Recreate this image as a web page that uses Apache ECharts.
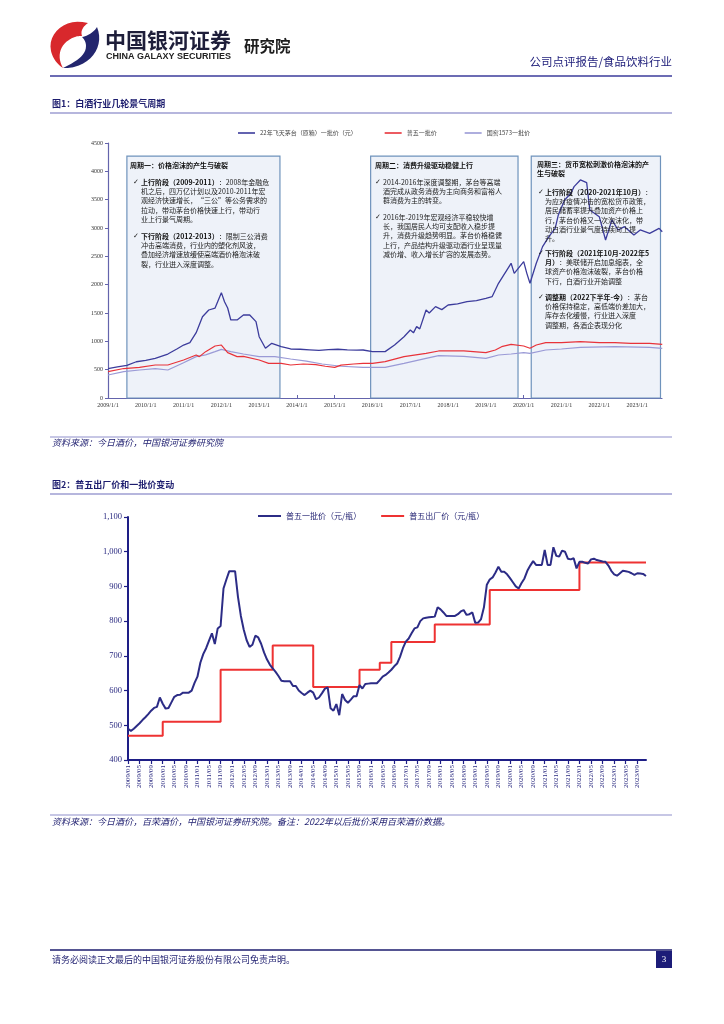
<!DOCTYPE html>
<html>
<head>
<meta charset="utf-8">
<script src="https://cdn.jsdelivr.net/npm/echarts@6/dist/echarts.min.js"></script>
<style>
html,body{margin:0;padding:0;background:#fff;}
#main{width:724px;height:1024px;}
</style>
</head>
<body>
<div id="main"></div>
<script>
// ---------- Figure 1 data (month, value) ----------
const moutaiDates = ['2009-01','2009-04','2009-07','2009-10','2010-01','2010-04','2010-08','2010-11','2011-01','2011-03','2011-05','2011-07','2011-09','2011-11','2012-01','2012-02','2012-03','2012-04','2012-06','2012-08','2012-10','2012-12','2013-01','2013-03','2013-05','2013-08','2013-11','2014-02','2014-05','2014-08','2014-11','2015-02','2015-05','2015-08','2015-10','2016-01','2016-05','2016-08','2016-11','2017-01','2017-02','2017-03','2017-04','2017-06','2017-07','2017-09','2017-11','2018-01','2018-04','2018-07','2018-10','2019-01','2019-03','2019-05','2019-07','2019-09','2019-10','2020-01','2020-02','2020-03','2020-05','2020-07','2020-09','2020-11','2020-12','2021-02','2021-04','2021-05','2021-07','2021-09','2021-10','2022-01','2022-03','2022-05','2022-07','2022-09','2022-12','2023-02','2023-05','2023-08','2023-09'];
const moutaiValues = [520,550,575,640,665,700,776,870,935,976,1153,1435,1553,1588,1859,1700,1588,1377,1377,1465,1465,1347,1082,877,965,906,865,860,850,840,855,860,850,845,847,818,818,935,1082,1200,1150,1259,1220,1553,1500,1612,1560,1641,1660,1700,1720,1759,1790,2024,2200,2377,2200,2406,2200,2024,2377,2671,2847,2994,3230,3495,3613,3730,3848,3800,3318,3200,2789,3142,2965,3024,2877,2965,2906,2994,2935];

const pu5Dates = ['2009-01','2009-06','2009-11','2010-04','2010-08','2011-01','2011-05','2011-06','2011-08','2011-11','2012-01','2012-03','2012-06','2012-08','2013-01','2013-04','2013-08','2013-11','2014-03','2014-07','2014-10','2015-01','2015-03','2015-07','2015-10','2016-01','2016-05','2016-11','2017-06','2017-10','2018-06','2019-01','2019-04','2019-06','2019-09','2020-01','2020-03','2020-05','2020-08','2021-01','2021-07','2022-01','2022-06','2022-11','2023-05','2023-09'];
const pu5Values = [464,520,541,582,582,670,759,730,818,918,935,800,730,735,670,612,612,582,600,590,560,540,580,600,612,612,641,730,788,830,830,800,847,906,947,918,877,935,976,976,994,976,976,965,965,947];

const gjDates = ['2009-01','2009-06','2009-11','2010-04','2010-08','2011-01','2011-05','2011-08','2011-11','2012-01','2012-04','2012-08','2013-01','2013-06','2013-11','2014-04','2014-09','2015-03','2015-10','2016-05','2016-11','2017-06','2017-10','2018-06','2019-01','2019-05','2019-09','2020-01','2020-03','2020-08','2021-01','2021-07','2022-06','2023-05','2023-09'];
const gjValues = [406,464,494,520,494,623,730,760,818,859,818,776,730,730,688,650,600,560,541,541,612,700,747,735,700,759,776,800,788,847,865,894,906,894,877];

const fig1YearTicks = [2009,2010,2011,2012,2013,2014,2015,2016,2017,2018,2019,2020,2021,2022,2023];
const fig1Names = ['22年飞天茅台（原箱）一批价（元）','普五一批价','国窖1573一批价'];

// ---------- Figure 2 data (monthly, 2009/01 - 2023/12) ----------
const pu5Wholesale = [
 490,484,490,498,506,515,523,532,542,550,553,580,
 562,548,550,566,582,587,588,594,594,594,600,622,
 640,680,705,722,744,765,734,779,786,894,920,944,
 944,944,870,815,775,745,726,732,758,753,735,710,
 690,675,664,654,642,628,627,627,627,613,613,600,
 593,587,594,600,594,575,580,592,605,609,549,542,
 561,529,590,573,565,574,584,584,616,606,619,620,
 621,621,621,630,640,645,652,660,670,678,697,722,
 741,750,765,779,782,800,808,810,811,812,813,840,
 834,825,815,815,815,815,820,828,832,818,820,825,
 795,796,806,840,905,920,926,940,957,942,942,935,
 924,912,900,894,910,923,945,960,973,962,962,962,
 1005,962,962,1013,988,986,1003,1000,980,978,981,952,
 971,971,968,966,978,980,976,974,972,971,960,945,
 935,931,938,945,944,942,938,933,938,937,936,930];
const pu5Factory = [
 470,470,470,470,470,470,470,470,470,470,470,470,
 510,510,510,510,510,510,510,510,510,510,510,510,
 510,510,510,510,510,510,510,510,660,660,660,660,
 660,660,660,660,660,660,660,660,660,660,660,660,
 660,660,730,730,730,730,730,730,730,730,730,730,
 730,730,730,730,610,610,610,610,610,610,610,610,
 610,610,610,610,610,610,610,610,660,660,660,660,
 660,660,660,680,680,680,680,740,740,740,740,740,
 740,740,740,740,740,740,740,740,740,740,790,790,
 790,790,790,790,790,790,790,790,790,790,790,790,
 790,790,790,790,790,890,890,890,890,890,890,890,
 890,890,890,890,890,890,890,890,890,890,890,890,
 890,890,890,890,890,890,890,890,890,890,890,890,
 969,969,969,969,969,969,969,969,969,969,969,969,
 969,969,969,969,969,969,969,969,969,969,969,969];
const fig2Months = [];
for (let y = 2009; y <= 2023; y++) for (let m = 1; m <= 12; m++) fig2Months.push(y + '/' + (m < 10 ? '0' + m : m));
const fig2Names = ['普五一批价（元/瓶）','普五出厂价（元/瓶）'];

// ---------- helpers ----------
function ym(s){ const p = s.split('-').map(Number); return p[0] + (p[1]-1)/12; }
function zip(d, v){ return d.map((s,i)=>[ym(s), v[i]]); }
// sample a closed cubic-bezier outline into polygon points (logo)
function bez(start, segs){
  const pts = [start.slice()]; let p0 = start;
  segs.forEach(s => {
    const c1=[s[0],s[1]], c2=[s[2],s[3]], p3=[s[4],s[5]];
    for (let i=1;i<=12;i++){ const t=i/12, u=1-t;
      pts.push([u*u*u*p0[0]+3*u*u*t*c1[0]+3*u*t*t*c2[0]+t*t*t*p3[0],
                u*u*u*p0[1]+3*u*u*t*c1[1]+3*u*t*t*c2[1]+t*t*t*p3[1]]); }
    p0 = p3;
  });
  return pts;
}

const CJK = '"Noto Sans CJK SC","Liberation Sans",sans-serif';
const SERIF = '"Liberation Serif","Noto Sans CJK SC",serif';
const NAVY = '#1c1c6e';

function txt(x, y, text, opt){
  opt = opt || {};
  return { type:'text', x:x, y:y, z:20, style: Object.assign({
    text:text, fill: opt.fill || NAVY, font: opt.font || ('9px ' + CJK),
    textAlign: opt.align || 'left', textVerticalAlign: opt.va || 'middle'
  }, opt.extra || {}) };
}
function hline(x1, x2, y, color, w){
  return { type:'line', z:20, shape:{x1:x1, y1:y, x2:x2, y2:y}, style:{stroke:color, lineWidth:w} };
}
function boxText(x, y, text){
  return { type:'text', x:x, y:y, z:30, style:{
    text:text, fill:'#222', font:'7px ' + CJK, lineHeight:9.3,
    textVerticalAlign:'top',
    rich:{ b:{ fontWeight:'bold', fontSize:7, lineHeight:9.3, fill:'#111', fontFamily:CJK } }
  }};
}
function check(x, y){ return txt(x, y, '✓', {fill:'#222', font:'7px "DejaVu Sans"'}); }

const logoRed = bez([88,23], [[66,17,47,33,51,51],[53,59,57,64,63,68],[57,58,59,46,69,40],[73,37,77,36,82,36],[80,30,84,26,88,23]]);
const logoNavy = bez([97,27], [[104,44,94,62,74,67],[70,68,66,68,63,68],[75,62,86,56,86,46],[86,42,84,39,82,37],[88,36,94,32,97,27]]);

const graphics = [
  { type:'polygon', z:20, shape:{ points:logoRed }, style:{ fill:'#d8282c' } },
  { type:'polygon', z:20, shape:{ points:logoNavy }, style:{ fill:'#23266e' } },
  txt(105, 40, '中国银河证券', {fill:'#1e1e3a', font:'bold 21px ' + CJK}),
  txt(106, 57, 'CHINA GALAXY SECURITIES', {fill:'#222', font:'bold 9px "Liberation Sans",sans-serif'}),
  txt(244, 46, '研究院', {fill:'#1e1e1e', font:'bold 15.5px ' + CJK}),
  txt(672, 62, '公司点评报告/食品饮料行业', {align:'right', font:'11.5px ' + CJK, fill:'#1a1a78'}),
  hline(50, 672, 76, '#6c6cb4', 2),

  txt(52, 104, '图1：白酒行业几轮景气周期', {font:'bold 9px ' + CJK}),
  hline(50, 672, 113, '#9e9ed2', 1.5),

  txt(130, 165, '周期一：价格泡沫的产生与破裂', {fill:'#111', font:'bold 7px ' + CJK}),
  check(133, 182),
  boxText(141, 177.5, '{b|上行阶段（2009-2011）}：2008年金融危\n机之后，四万亿计划以及2010-2011年宏\n观经济快速增长，“三公”等公务需求的\n拉动，带动茅台价格快速上行，带动行\n业上行景气周期。'),
  check(133, 236),
  boxText(141, 231.5, '{b|下行阶段（2012-2013）}：限制三公消费\n冲击高端消费，行业内的塑化剂风波，\n叠加经济增速放缓使高端酒价格泡沫破\n裂，行业进入深度调整。'),

  txt(375, 165, '周期二：消费升级驱动稳健上行', {fill:'#111', font:'bold 7px ' + CJK}),
  check(375, 182),
  boxText(383, 177.5, '2014-2016年深度调整期，茅台等高端\n酒完成从政务消费为主向商务和富裕人\n群消费为主的转变。'),
  check(375, 217),
  boxText(383, 212.5, '2016年-2019年宏观经济平稳较快增\n长，我国居民人均可支配收入稳步提\n升，消费升级趋势明显。茅台价格稳健\n上行，产品结构升级驱动酒行业呈现量\n减价增、收入增长扩容的发展态势。'),

  { type:'text', x:537, y:159.5, z:30, style:{ text:'周期三：货币宽松刺激价格泡沫的产\n生与破裂', fill:'#111', font:'bold 7px ' + CJK, lineHeight:9.3, textVerticalAlign:'top' } },
  check(538, 192),
  boxText(545, 187.5, '{b|上行阶段（2020-2021年10月）}：\n为应对疫情冲击的宽松货币政策，\n居民储蓄率提升叠加资产价格上\n行，茅台价格又一次泡沫化，带\n动白酒行业景气度持续向上提\n升。'),
  check(538, 253),
  boxText(545, 248.5, '{b|下行阶段（2021年10月-2022年5}\n{b|月）}：美联储开启加息缩表，全\n球资产价格泡沫破裂，茅台价格\n下行，白酒行业开始调整'),
  check(538, 297),
  boxText(545, 292.5, '{b|调整期（2022下半年-今）}：茅台\n价格保持稳定，高低端价差加大，\n库存去化缓慢，行业进入深度\n调整期，各酒企表现分化'),

  hline(50, 672, 437, '#b4b4dc', 1.5),
  txt(52, 443, '资料来源：今日酒价，中国银河证券研究院', {font:'italic 9px ' + CJK}),

  txt(52, 485, '图2：普五出厂价和一批价变动', {font:'bold 9px ' + CJK}),
  hline(50, 672, 494, '#9e9ed2', 1.5),

  hline(50, 672, 815, '#b4b4dc', 1.5),
  txt(52, 822, '资料来源：今日酒价，百荣酒价，中国银河证券研究院。备注：2022年以后批价采用百荣酒价数据。', {font:'italic 9px ' + CJK}),

  hline(50, 672, 950, '#1c1c6e', 1.5),
  txt(52, 960, '请务必阅读正文最后的中国银河证券股份有限公司免责声明。', {font:'9px ' + CJK}),
  { type:'rect', z:20, shape:{x:656, y:951, width:16, height:17}, style:{fill:'#1c1c78'} },
  txt(664, 960, '3', {fill:'#fff', align:'center', font:'9px ' + SERIF})
];

const chart = echarts.init(document.getElementById('main'), null, {renderer:'canvas'});
const option = {
  animation:false,
  backgroundColor:'#fff',
  textStyle:{ fontFamily: CJK },
  grid:[
    { left:108, top:143, width:554, height:255 },
    { left:128, top:517, width:518, height:243 }
  ],
  legend:[
    { data:fig1Names, left:233, top:125, icon:'rect', itemWidth:17, itemHeight:1.6, itemGap:28,
      textStyle:{ fontSize:6, color:'#444', fontFamily:CJK } },
    { data:fig2Names, left:253, top:507, icon:'rect', itemWidth:23, itemHeight:2, itemGap:20,
      textStyle:{ fontSize:8, color:NAVY, fontFamily:CJK } }
  ],
  xAxis:[
    { gridIndex:0, type:'value', min:2009, max:2023.66, interval:1,
      axisLine:{ lineStyle:{ color:'#6464ac', width:1.2 } },
      axisTick:{ inside:true, length:3, lineStyle:{ color:'#6464ac' } },
      splitLine:{ show:false },
      axisLabel:{ fontSize:6, color:'#333', fontFamily:SERIF, margin:4, showMaxLabel:false,
        formatter: v => fig1YearTicks.indexOf(Math.round(v*1000)/1000) >= 0 ? v + '/1/1' : '' } },
    { gridIndex:1, type:'category', data:fig2Months, boundaryGap:false,
      axisLine:{ lineStyle:{ color:'#1e1e86', width:2 } },
      axisTick:{ interval:3, length:4, lineStyle:{ color:'#1e1e86', width:1.2 } },
      axisLabel:{ interval:3, rotate:90, fontSize:7, color:'#2a2a80', fontFamily:SERIF, margin:5 } }
  ],
  yAxis:[
    { gridIndex:0, type:'value', min:0, max:4500, interval:500,
      axisLine:{ show:true, lineStyle:{ color:'#6464ac', width:1.2 } },
      axisTick:{ show:true, length:3, lineStyle:{ color:'#6464ac' } },
      splitLine:{ show:false },
      axisLabel:{ fontSize:6, color:'#333', fontFamily:SERIF, margin:5, formatter: v => String(v) } },
    { gridIndex:1, type:'value', min:400, max:1100, interval:100,
      axisLine:{ show:true, lineStyle:{ color:'#1e1e86', width:2 } },
      axisTick:{ show:true, length:4, lineStyle:{ color:'#1e1e86', width:1.2 } },
      splitLine:{ show:false },
      axisLabel:{ fontSize:8.5, color:'#2a2a80', fontFamily:SERIF, margin:6,
        formatter: v => v >= 1000 ? Math.floor(v/1000) + ',' + String(v%1000).padStart(3,'0') : String(v) } }
  ],
  series:[
    { name:fig1Names[2], type:'line', xAxisIndex:0, yAxisIndex:0, data:zip(gjDates, gjValues),
      showSymbol:false, z:3, lineStyle:{ color:'#9a9ad6', width:1.2 }, itemStyle:{ color:'#9a9ad6' },
      markArea:{ silent:true, z:1,
        itemStyle:{ color:'#eef2f9', borderColor:'#6f93bc', borderWidth:1.2 },
        data:[
          [{ xAxis:2009.5, yAxis:4270 }, { xAxis:2013.55, yAxis:0 }],
          [{ xAxis:2015.95, yAxis:4270 }, { xAxis:2019.85, yAxis:0 }],
          [{ xAxis:2020.2, yAxis:4270 }, { xAxis:2023.62, yAxis:0 }]
        ] } },
    { name:fig1Names[1], type:'line', xAxisIndex:0, yAxisIndex:0, data:zip(pu5Dates, pu5Values),
      showSymbol:false, z:4, lineStyle:{ color:'#e8333a', width:1.2 }, itemStyle:{ color:'#e8333a' } },
    { name:fig1Names[0], type:'line', xAxisIndex:0, yAxisIndex:0, data:zip(moutaiDates, moutaiValues),
      showSymbol:false, z:5, lineStyle:{ color:'#3c3c9c', width:1.3 }, itemStyle:{ color:'#3c3c9c' } },
    { name:fig2Names[1], type:'line', xAxisIndex:1, yAxisIndex:1, data:pu5Factory, step:'end',
      showSymbol:false, z:3, lineStyle:{ color:'#ee3232', width:2 }, itemStyle:{ color:'#ee3232' } },
    { name:fig2Names[0], type:'line', xAxisIndex:1, yAxisIndex:1, data:pu5Wholesale,
      showSymbol:false, z:4, lineStyle:{ color:'#2c2c86', width:2 }, itemStyle:{ color:'#2c2c86' } }
  ],
  graphic: graphics
};
chart.setOption(option);
</script>
</body>
</html>
